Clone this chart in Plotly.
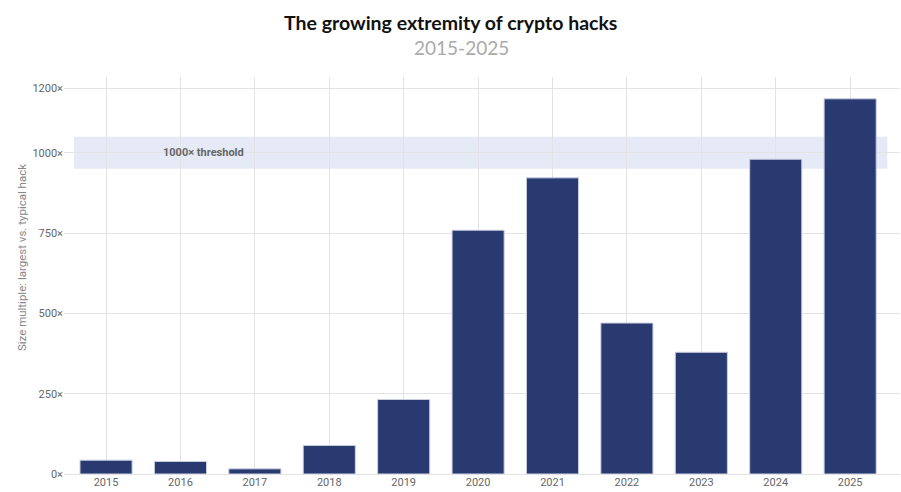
import plotly.graph_objects as go

years = ["2015", "2016", "2017", "2018", "2019", "2020", "2021", "2022", "2023", "2024", "2025"]
multiples = [43, 39, 16, 89, 232, 759, 922, 470, 379, 980, 1168]
y_ticks = [0, 250, 500, 750, 1000, 1200]
y_tick_labels = [f"{v}×" for v in y_ticks]
threshold = 1000
band_low, band_high = 950, 1050

fig = go.Figure()
fig.add_trace(go.Bar(
    x=years, y=multiples, width=0.7,
    marker=dict(color="#293A70", line=dict(color="#C9CEE2", width=1)),
    showlegend=False,
))

fig.add_shape(type="rect", xref="x", yref="y", x0=-0.43, x1=10.5,
              y0=band_low, y1=band_high, fillcolor="rgba(200,208,235,0.45)",
              line=dict(width=0), layer="below")
fig.add_annotation(x=1.31, y=threshold, xref="x", yref="y", text="<b>1000× threshold</b>",
                   showarrow=False, font=dict(family="Roboto, Arial", size=11, color="#666666"))
fig.add_annotation(x=-0.0502, y=0.544, xref="paper", yref="paper",
                   text="Size multiple: largest vs. typical hack", textangle=-90,
                   showarrow=False, xanchor="center", yanchor="middle",
                   font=dict(family="Roboto, Arial", size=11.5, color="#888888"))
# title and subtitle
fig.add_annotation(x=(450 - 64) / 836, y=(474 - 22) / 397, xref="paper", yref="paper",
                   text="<b>The growing extremity of crypto hacks</b>", showarrow=False,
                   xanchor="center", yanchor="middle",
                   font=dict(family="Lato, Nunito, Arial", size=19.5, color="#111111"))
fig.add_annotation(x=(461 - 64) / 836, y=(474 - 47) / 397, xref="paper", yref="paper",
                   text="2015-2025", showarrow=False,
                   xanchor="center", yanchor="middle",
                   font=dict(family="Lato, Nunito, Arial", size=19, color="#AAAAAA"))

fig.update_layout(
    width=901, height=492,
    margin=dict(l=64, r=1, t=77, b=18),
    paper_bgcolor="white", plot_bgcolor="white",
    bargap=0.3,
)
fig.update_xaxes(
    type="category", range=[-0.565, 10.67],
    showgrid=True, gridcolor="#E3E3E6", gridwidth=1,
    tickfont=dict(family="Roboto, Arial", size=11, color="#666666"),
    ticks="", showline=False, zeroline=False,
)
fig.update_yaxes(
    range=[0, 1236], tickvals=y_ticks, ticktext=y_tick_labels,
    showgrid=True, gridcolor="#E3E3E6", gridwidth=1,
    zeroline=True, zerolinecolor="#E3E3E6", zerolinewidth=1,
    tickfont=dict(family="Roboto, Arial", size=11, color="#666666"),
    ticks="", showline=False,
)

fig.write_html("out.html")
